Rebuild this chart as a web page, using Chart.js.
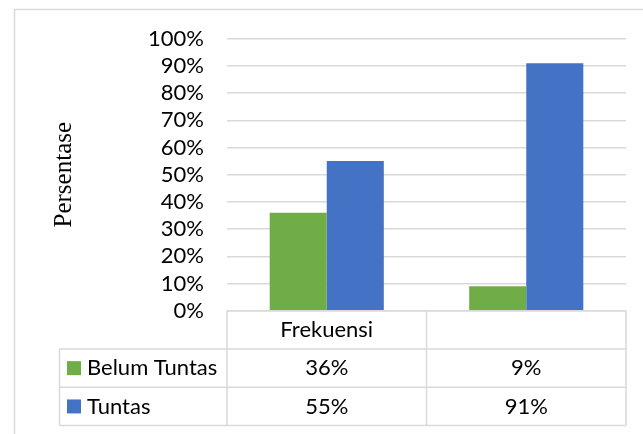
<!DOCTYPE html>
<html>
<head>
<meta charset="utf-8">
<script src="https://cdn.jsdelivr.net/npm/chart.js@4"></script>
<style>
    body { margin: 0; background: #fff; }
    #wrap { width: 643px; height: 434px; }
</style>
</head>
<body>
<div id="wrap"><canvas id="chart" width="643" height="434"></canvas></div>
<script>
const categories = ['Frekuensi', ''];
const seriesNames = ['Belum Tuntas', 'Tuntas'];
const belumTuntas = [36, 9];
const tuntas = [55, 91];
const seriesColors = ['#70AD47', '#4472C4'];

const TEXT_FONT = 'Lato, "Open Sans", sans-serif';
const GRID = '#d9d9d9';

// data table under the plot, columns follow the category scale
const dataTable = {
    id: 'dataTable',
    afterDraw(chart) {
        const { ctx, chartArea } = chart;
        const x = chart.scales.x;
        const rowH = 38.3;
        const top = chartArea.bottom;
        const labelLeft = 59.5;
        const left = x.left;
        const right = x.right;
        const colW = (right - left) / categories.length;
        const rows = [belumTuntas, tuntas];

        ctx.save();
        ctx.strokeStyle = GRID;
        ctx.lineWidth = 1.5;

        // outer frame of the chart
        ctx.beginPath();
        ctx.moveTo(14.5, 434);
        ctx.lineTo(14.5, 9.5);
        ctx.lineTo(643, 9.5);
        ctx.stroke();

        ctx.beginPath();
        // header row
        ctx.moveTo(left, top);
        ctx.lineTo(right, top);
        for (let r = 1; r <= rows.length + 1; r++) {
            ctx.moveTo(labelLeft, top + rowH * r);
            ctx.lineTo(right, top + rowH * r);
        }
        ctx.moveTo(labelLeft, top + rowH);
        ctx.lineTo(labelLeft, top + rowH * (rows.length + 1));
        for (let c = 0; c <= categories.length; c++) {
            ctx.moveTo(left + colW * c, top);
            ctx.lineTo(left + colW * c, top + rowH * (rows.length + 1));
        }
        ctx.stroke();

        ctx.fillStyle = '#000';
        ctx.font = '22px ' + TEXT_FONT;
        ctx.textAlign = 'center';
        ctx.textBaseline = 'middle';
        categories.forEach((cat, i) => {
            ctx.fillText(cat, x.getPixelForValue(i), top + rowH / 2);
        });
        rows.forEach((vals, r) => {
            const cy = top + rowH * (r + 1.5);
            vals.forEach((v, i) => {
                ctx.fillText(v + '%', x.getPixelForValue(i), cy);
            });
            ctx.fillStyle = seriesColors[r];
            ctx.fillRect(67, cy - 7, 14, 14);
            ctx.fillStyle = '#000';
            ctx.textAlign = 'left';
            ctx.fillText(seriesNames[r], 87, cy);
            ctx.textAlign = 'center';
        });
        ctx.restore();
    }
};

new Chart(document.getElementById('chart'), {
    type: 'bar',
    data: {
        labels: categories,
        datasets: [
            { label: seriesNames[0], data: belumTuntas, backgroundColor: seriesColors[0] },
            { label: seriesNames[1], data: tuntas, backgroundColor: seriesColors[1] },
        ],
    },
    options: {
        responsive: false,
        animation: false,
        devicePixelRatio: 1,
        layout: { padding: { left: 49, right: 17, top: 38.7, bottom: 123.3 } },
        datasets: { bar: { categoryPercentage: 0.572, barPercentage: 1 } },
        plugins: { legend: { display: false }, tooltip: { enabled: false } },
        scales: {
            x: { display: false },
            y: {
                min: 0,
                max: 100,
                afterFit: (scale) => { scale.width = 178; },
                border: { display: false },
                grid: { color: GRID, lineWidth: 1.5, drawTicks: false },
                ticks: {
                    stepSize: 10,
                    autoSkip: false,
                    padding: 23,
                    color: '#000',
                    font: { family: TEXT_FONT, size: 22 },
                    callback: (v) => v + '%',
                },
                title: {
                    display: true,
                    text: 'Persentase',
                    color: '#000',
                    font: { family: '"Liberation Serif", serif', size: 25 },
                    padding: { top: 0, bottom: 0 },
                },
            },
        },
    },
    plugins: [dataTable],
});
</script>
</body>
</html>
